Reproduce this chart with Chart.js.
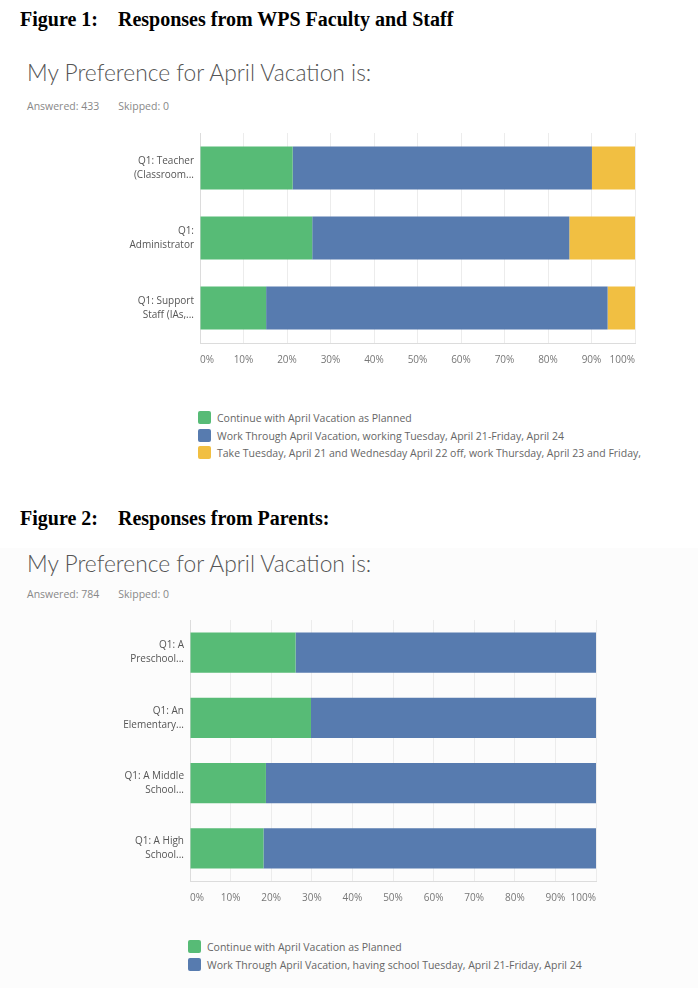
<!DOCTYPE html>
<html>
<head>
<meta charset="utf-8">
<script src="https://cdn.jsdelivr.net/npm/chart.js@4/dist/chart.umd.min.js"></script>
<style>
  body { margin: 0; background: #fff; width: 698px; height: 1006px; position: relative; overflow: hidden; }
  .fig { position: absolute; left: 20px; font-family: "Liberation Serif", serif; font-weight: bold; font-size: 20px; color: #000; white-space: pre; }
  .titel { position: absolute; left: 27px; font-family: "Lato", "Open Sans", sans-serif; font-weight: 300; font-size: 22.8px; color: #555; }
  .info { position: absolute; left: 27px; font-family: "Open Sans", sans-serif; font-size: 10.5px; color: #888; white-space: pre; }
  .panel2 { position: absolute; left: 0; top: 548px; width: 698px; height: 440px; background: #fcfcfc; }
  canvas { position: absolute; left: 0; }
  .legenda { position: absolute; font-family: "Open Sans", sans-serif; font-size: 10.5px; color: #666; }
  .legenda div { height: 17.5px; line-height: 17.5px; white-space: nowrap; }
  .legenda span { display: inline-block; width: 13px; height: 13px; border-radius: 2px; vertical-align: -2px; margin-right: 6px; }
</style>
</head>
<body>
<div class="panel2"></div>
<div class="fig" style="top:8px">Figure 1:    Responses from WPS Faculty and Staff</div>
<div class="titel" style="top:58px">My Preference for April Vacation is:</div>
<div class="info" style="top:99px">Answered: 433       Skipped: 0</div>
<canvas id="grafik1" width="698" height="246" style="top:125px"></canvas>
<div class="legenda" id="legenda1" style="left:198px; top:410px"></div>

<div class="fig" style="top:507px">Figure 2:    Responses from Parents:</div>
<div class="titel" style="top:549px">My Preference for April Vacation is:</div>
<div class="info" style="top:587px">Answered: 784       Skipped: 0</div>
<canvas id="grafik2" width="698" height="299" style="top:610px"></canvas>
<div class="legenda" id="legenda2" style="left:188px; top:939px"></div>

<script>
// data gambar 1 (staf)
const kategori1 = [["Q1: Teacher", "(Classroom..."], ["Q1:", "Administrator"], ["Q1: Support", "Staff (IAs,..."]];
const lanjut1 = [21.3, 25.8, 15.2];
const kerja1 = [68.8, 59.1, 78.5];
const libur1 = [9.9, 15.1, 6.3];
const seri1 = [
  "Continue with April Vacation as Planned",
  "Work Through April Vacation, working Tuesday, April 21-Friday, April 24",
  "Take Tuesday, April 21 and Wednesday April 22 off, work Thursday, April 23 and Friday,"
];

// data gambar 2 (orang tua)
const kategori2 = [["Q1: A", "Preschool..."], ["Q1: An", "Elementary..."], ["Q1: A Middle", "School..."], ["Q1: A High", "School..."]];
const lanjut2 = [26.0, 29.8, 18.7, 18.1];
const kerja2 = [74.0, 70.2, 81.3, 81.9];
const seri2 = [
  "Continue with April Vacation as Planned",
  "Work Through April Vacation, having school Tuesday, April 21-Friday, April 24"
];

const tickPersen = [0, 10, 20, 30, 40, 50, 60, 70, 80, 90, 100];
const warna = ["#57bb76", "#577baf", "#f1bf42"];

function buatGrafik(id, kategori, nilaiSeri, namaSeri, lebarY, atasPad, kananPad) {
  const ctx = document.getElementById(id).getContext("2d");
  new Chart(ctx, {
    type: "bar",
    data: {
      labels: kategori,
      datasets: nilaiSeri.map((d, i) => ({
        label: namaSeri[i],
        data: d,
        backgroundColor: warna[i],
        borderWidth: 0,
        barPercentage: 1,
        categoryPercentage: 0.615
      }))
    },
    options: {
      indexAxis: "y",
      responsive: false,
      animation: false,
      layout: { padding: { top: atasPad, right: kananPad, left: 0, bottom: 0 } },
      plugins: { legend: { display: false }, tooltip: { enabled: false } },
      scales: {
        x: {
          stacked: true,
          min: 0,
          max: 100,
          afterBuildTicks: s => { s.ticks = tickPersen.map(v => ({ value: v })); },
          afterFit: s => { s.height = 28; },
          grid: { color: "#ececec", drawTicks: false },
          border: { color: "#dcdcdc" },
          ticks: {
            align: "inner",
            padding: 11,
            color: "#777",
            font: { family: "Open Sans", size: 10 },
            callback: v => v + "%"
          }
        },
        y: {
          stacked: true,
          afterFit: s => {
            s.width = lebarY;
            s.paddingTop = 0;  // label dua baris jangan dorong area grafik
            s.paddingBottom = 0;
          },
          grid: { display: false, drawTicks: false },
          border: { color: "#dcdcdc" },
          ticks: {
            padding: 6,
            color: "#555",
            font: { family: "Open Sans", size: 10, lineHeight: 1.4 }
          }
        }
      }
    }
  });
}

function buatLegenda(id, namaSeri) {
  const el = document.getElementById(id);
  namaSeri.forEach((n, i) => {
    const baris = document.createElement("div");
    const kotak = document.createElement("span");
    kotak.style.background = warna[i];
    baris.appendChild(kotak);
    baris.appendChild(document.createTextNode(n));
    el.appendChild(baris);
  });
}

document.addEventListener("DOMContentLoaded", () => {
  buatGrafik("grafik1", kategori1, [lanjut1, kerja1, libur1], seri1, 200, 8, 63);
  buatGrafik("grafik2", kategori2, [lanjut2, kerja2], seri2, 190, 10, 102);
  buatLegenda("legenda1", seri1);
  buatLegenda("legenda2", seri2);
});
</script>
</body>
</html>
